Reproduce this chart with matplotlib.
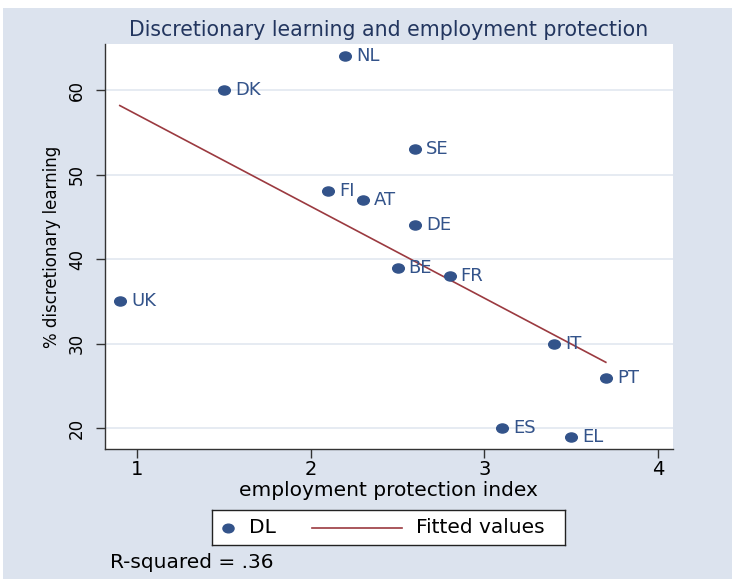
import matplotlib
matplotlib.use('Agg')
import matplotlib.pyplot as plt
from matplotlib.patches import Rectangle
from matplotlib.path import Path
from matplotlib.transforms import Affine2D
import numpy as np

# country codes, employment protection index, % discretionary learning
countries = ['NL', 'DK', 'SE', 'FI', 'AT', 'DE', 'BE', 'FR', 'UK', 'IT', 'PT', 'ES', 'EL']
ep_index = [2.2, 1.5, 2.6, 2.1, 2.3, 2.6, 2.5, 2.8, 0.9, 3.4, 3.7, 3.1, 3.5]
dl_share = [64, 60, 53, 48, 47, 44, 39, 38, 35, 30, 26, 20, 19]
x_ticks = [1, 2, 3, 4]
y_ticks = [20, 30, 40, 50, 60]
r_squared_text = 'R-squared = .36'

navy = '#33538a'
maroon = '#9b3a40'
bg = '#dce3ee'

# stata style markers are a bit wider than tall in this picture
oval = Path.unit_circle().transformed(Affine2D().scale(1.0, 0.78))

fig = plt.figure(figsize=(7.32, 5.82), dpi=100)
fig.patch.set_facecolor('white')
fig.add_artist(Rectangle((3 / 732, 3 / 582), 729 / 732, 571 / 582,
                         transform=fig.transFigure, facecolor=bg,
                         edgecolor='none', zorder=-10))

ax = fig.add_axes([0.1428, 0.2285, 0.7766, 0.6959])
ax.set_facecolor('white')

# grid lines at the y ticks
for yv in y_ticks:
    ax.axhline(yv, color='#dfe5ef', lw=1.1, zorder=0)

ax.plot(ep_index, dl_share, linestyle='none', marker=oval, markersize=8.4,
        color=navy, zorder=3)
for c, xv, yv in zip(countries, ep_index, dl_share):
    ax.annotate(c, (xv, yv), xytext=(8, 0), textcoords='offset points',
                va='center', ha='left', fontsize=13, color=navy, zorder=4)

# fitted values (least squares line)
slope, icpt = np.polyfit(ep_index, dl_share, 1)
xs = np.array([min(ep_index), max(ep_index)])
ax.plot(xs, icpt + slope * xs, color=maroon, lw=1.2, zorder=2)

ax.set_xlim(0.812, 4.087)
ax.set_ylim(17.55, 65.44)
ax.set_xticks(x_ticks)
ax.set_yticks(y_ticks)
ax.tick_params(axis='x', labelsize=14, length=6.5, width=1, color='#333333', pad=1.5)
ax.tick_params(axis='y', labelsize=12, length=6.5, width=1, color='#333333',
               pad=7, labelrotation=90)
for lab in ax.get_yticklabels():
    lab.set_va('center')

for s in ['top', 'right']:
    ax.spines[s].set_visible(False)
for s in ['left', 'bottom']:
    ax.spines[s].set_color('#333333')
    ax.spines[s].set_linewidth(1.0)

ax.set_xlabel('employment protection index', fontsize=14.5)
ax.xaxis.set_label_coords(0.5, -0.103)
ax.xaxis.label.set_va('center')
ax.set_ylabel('% discretionary learning', fontsize=12)
ax.yaxis.set_label_coords(-0.0923, 0.5)
ax.yaxis.label.set_va('center')

fig.text(389 / 732, 1 - 30 / 582, 'Discretionary learning and employment protection',
         ha='center', va='center', fontsize=14.8, color='#23365f')

# legend box, laid out like the stata one
lg = fig.add_axes([212 / 732, 1 - 545 / 582, 353 / 732, 35 / 582])
lg.set_xlim(0, 1)
lg.set_ylim(0, 1)
lg.set_xticks([])
lg.set_yticks([])
lg.set_facecolor('white')
for s in lg.spines.values():
    s.set_color('#222222')
    s.set_linewidth(1.0)
lg.plot([0.045], [0.5], linestyle='none', marker=oval, markersize=8, color=navy)
lg.text(0.105, 0.5, 'DL', va='center', ha='left', fontsize=14.5)
lg.plot([0.283, 0.538], [0.5, 0.5], color=maroon, lw=1.2)
lg.text(0.578, 0.5, 'Fitted values', va='center', ha='left', fontsize=14.5)

fig.text(110 / 732, 1 - 562 / 582, r_squared_text, ha='left', va='center', fontsize=14.5)

fig.savefig('out.png', dpi=100)
